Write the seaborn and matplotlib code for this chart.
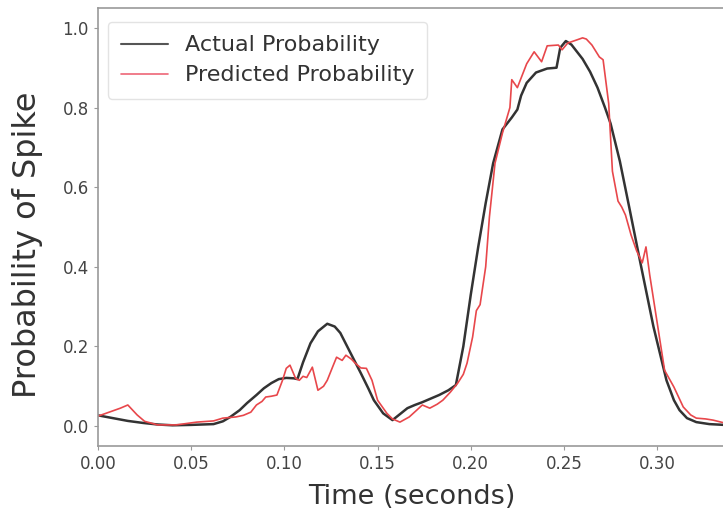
import numpy as np
import pandas as pd
import matplotlib
matplotlib.use("Agg")
import matplotlib.pyplot as plt
import seaborn as sns

# actual probability (smooth curve)
t_actual = [0.000, 0.008, 0.016, 0.024, 0.032, 0.040, 0.050, 0.062, 0.067, 0.071,
            0.076, 0.080, 0.085, 0.089, 0.093, 0.097, 0.101, 0.105, 0.107, 0.110,
            0.114, 0.118, 0.123, 0.127, 0.130, 0.135, 0.141, 0.145, 0.148, 0.153,
            0.158, 0.162, 0.166, 0.170, 0.174, 0.178, 0.183, 0.188, 0.192, 0.196,
            0.200, 0.204, 0.208, 0.212, 0.217, 0.222, 0.225, 0.227, 0.230, 0.235,
            0.241, 0.246, 0.248, 0.251, 0.254, 0.260, 0.264, 0.268, 0.272, 0.275,
            0.280, 0.285, 0.291, 0.298, 0.305, 0.309, 0.312, 0.316, 0.321, 0.328,
            0.336]
p_actual = [0.027, 0.020, 0.013, 0.008, 0.004, 0.002, 0.003, 0.005, 0.012, 0.023,
            0.040, 0.058, 0.078, 0.095, 0.108, 0.118, 0.121, 0.120, 0.118, 0.160,
            0.208, 0.238, 0.257, 0.250, 0.234, 0.188, 0.133, 0.095, 0.065, 0.032,
            0.015, 0.030, 0.045, 0.053, 0.060, 0.068, 0.078, 0.090, 0.103, 0.200,
            0.330, 0.450, 0.560, 0.660, 0.745, 0.775, 0.795, 0.830, 0.862, 0.888,
            0.898, 0.900, 0.950, 0.967, 0.958, 0.922, 0.890, 0.850, 0.800, 0.760,
            0.665, 0.550, 0.410, 0.250, 0.115, 0.065, 0.040, 0.020, 0.010, 0.005,
            0.003]

# predicted probability (noisy curve)
t_pred = [0.000, 0.006, 0.012, 0.016, 0.021, 0.025, 0.032, 0.042, 0.053, 0.062,
          0.067, 0.074, 0.078, 0.082, 0.085, 0.088, 0.090, 0.093, 0.096, 0.099,
          0.101, 0.103, 0.106, 0.108, 0.110, 0.112, 0.115, 0.118, 0.121, 0.123,
          0.126, 0.128, 0.131, 0.133, 0.136, 0.138, 0.141, 0.144, 0.147, 0.150,
          0.155, 0.158, 0.162, 0.167, 0.171, 0.174, 0.178, 0.182, 0.185, 0.189,
          0.193, 0.196, 0.198, 0.201, 0.203, 0.205, 0.208, 0.210, 0.213, 0.217,
          0.221, 0.222, 0.225, 0.230, 0.234, 0.238, 0.241, 0.247, 0.249, 0.252,
          0.257, 0.260, 0.262, 0.265, 0.269, 0.271, 0.274, 0.276, 0.279, 0.281,
          0.283, 0.286, 0.289, 0.292, 0.294, 0.296, 0.301, 0.304, 0.309, 0.314,
          0.318, 0.321, 0.326, 0.330, 0.336]
p_pred = [0.025, 0.035, 0.045, 0.053, 0.028, 0.012, 0.003, 0.003, 0.010, 0.013,
          0.020, 0.023, 0.027, 0.035, 0.053, 0.062, 0.073, 0.075, 0.078, 0.115,
          0.145, 0.153, 0.120, 0.115, 0.125, 0.122, 0.148, 0.090, 0.100, 0.115,
          0.150, 0.173, 0.165, 0.178, 0.168, 0.158, 0.146, 0.145, 0.115, 0.065,
          0.032, 0.018, 0.010, 0.023, 0.040, 0.053, 0.045, 0.055, 0.065, 0.085,
          0.108, 0.130, 0.158, 0.224, 0.290, 0.305, 0.400, 0.525, 0.660, 0.736,
          0.800, 0.870, 0.850, 0.910, 0.940, 0.915, 0.955, 0.957, 0.945, 0.962,
          0.970, 0.975, 0.972, 0.957, 0.927, 0.920, 0.810, 0.640, 0.565, 0.550,
          0.530, 0.480, 0.440, 0.410, 0.450, 0.380, 0.230, 0.140, 0.098, 0.048,
          0.028, 0.020, 0.018, 0.015, 0.008]

sns.set_style("ticks")
plt.rcParams['font.family'] = ['DejaVu Sans']

fig = plt.figure(figsize=(7.23, 5.16), dpi=100)
ax = fig.add_axes([98 / 723, 70 / 516, 627 / 723, 438 / 516])

sns.lineplot(x=t_actual, y=p_actual, ax=ax, color='#333333', linewidth=1.8,
             estimator=None, label='Actual Probability')
sns.lineplot(x=t_pred, y=p_pred, ax=ax, color='#e8474b', linewidth=1.2,
             estimator=None, label='Predicted Probability')

ax.set_xlim(0, 0.3364)
ax.set_ylim(-0.05, 1.05)
ax.set_xticks([0.00, 0.05, 0.10, 0.15, 0.20, 0.25, 0.30])
ax.set_xticklabels(['0.00', '0.05', '0.10', '0.15', '0.20', '0.25', '0.30'])
ax.set_yticks([0.0, 0.2, 0.4, 0.6, 0.8, 1.0])
ax.set_yticklabels(['0.0', '0.2', '0.4', '0.6', '0.8', '1.0'])

for s in ax.spines.values():
    s.set_color('#999999')
    s.set_linewidth(1.2)
ax.spines['right'].set_visible(False)
ax.tick_params(colors='#999999', labelcolor='#444444', labelsize=12, length=3)

ax.set_xlabel('Time (seconds)', fontsize=19.5, color='#333333', labelpad=8)
ax.set_ylabel('Probability of Spike', fontsize=23, color='#333333')
ax.yaxis.set_label_coords(-0.088, 0.459)

leg = ax.legend(loc='upper left', bbox_to_anchor=(10 / 627, 1 - 14 / 438),
                borderaxespad=0, fontsize=16, frameon=True, fancybox=True,
                handlelength=2.1, handletextpad=0.75, borderpad=0.6,
                labelspacing=0.45)
leg.get_frame().set_edgecolor('#dddddd')
for txt in leg.get_texts():
    txt.set_color('#333333')
leg.get_lines()[0].set_color('#555555')
leg.get_lines()[0].set_linewidth(1.5)
leg.get_lines()[1].set_color('#ee6677')

fig.savefig('out.png', dpi=100)
